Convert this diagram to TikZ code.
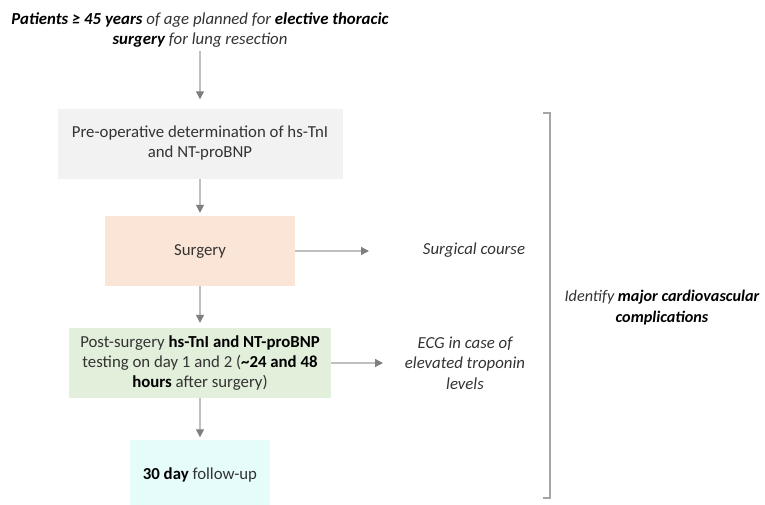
\documentclass[tikz,border=0pt]{standalone}
\usepackage{fontspec}
\setmainfont{Carlito}
\usetikzlibrary{arrows.meta,positioning}

\definecolor{txt}{HTML}{333333}
\definecolor{shaft}{HTML}{BFBFBF}
\definecolor{tip}{HTML}{7F7F7F}
\definecolor{brk}{HTML}{A6A6A6}
\definecolor{preopfill}{HTML}{F2F2F2}
\definecolor{surgfill}{HTML}{FBE5D6}
\definecolor{postfill}{HTML}{E2EFDA}
\definecolor{followfill}{HTML}{E6FCFB}

\newcommand{\bk}[1]{{\bfseries\color{black}#1}}

\tikzset{
  stagebox/.style={minimum height=70pt, inner sep=0pt, align=center, text=txt,
    font=\fontsize{16.8}{20}\selectfont},
  sidetext/.style={align=center, inner sep=0pt, text=txt,
    font=\fontsize{16.8}{20.5}\selectfont\itshape},
  flow/.style={draw=shaft, line width=1.3pt, shorten >=3pt,
    -{Triangle[length=8pt,width=8pt,color=tip]}},
}

\begin{document}
\begin{tikzpicture}[x=1pt,y=1pt,yscale=-1,xscale=1]
    \useasboundingbox (0,0) rectangle (765,504);
    % Text Node
    \node [sidetext] (title) at (200,30) {\bk{Patients ≥ 45 years} of age planned for \bk{elective thoracic}\\ \bk{surgery} for lung resection};
    % Stage boxes
    \node [stagebox, fill=preopfill, minimum width=285pt] (preop) at (200,143.5) {Pre-operative determination of hs-TnI\\ and NT-proBNP};
    \node [stagebox, fill=surgfill, minimum width=190pt] (surgery) at (200,251) {Surgery};
    \node [stagebox, fill=postfill, minimum width=262pt] (post) at (200,363) {Post-surgery \bk{hs-TnI and NT-proBNP}\\ testing on day 1 and 2 (\bk{\textasciitilde24 and 48}\\ \bk{hours} after surgery)};
    \node [stagebox, fill=followfill, minimum width=140pt] (follow) at (200,474.5) {\bk{30 day} follow-up};
    % Side texts
    \node [sidetext] (course) at (474,250) {Surgical course};
    \node [sidetext] (ecg) at (465,363) {ECG in case of\\ elevated troponin\\ levels};
    \node [sidetext, font=\fontsize{16.2}{20.5}\selectfont\itshape] (identify) at (662,307.5) {Identify \bk{major cardiovascular}\\ \bk{complications}};
    \coordinate (courseend) at (369,251);
    \coordinate (ecgend) at (383,363);
    % Arrows
    \draw [flow, shorten <=3pt, shorten >=9pt] (title) -- (preop);
    \draw [flow] (preop) -- (surgery);
    \draw [flow, shorten >=5pt] (surgery) -- (post);
    \draw [flow, shorten >=2pt] (post) -- (follow);
    \draw [flow, shorten >=0pt] (surgery.east) -- (courseend);
    \draw [flow, shorten >=0pt] (post.east) -- (ecgend);
    % Bracket
    \draw [brk, line width=1.2pt] (543,113) -- (550,113) -- (550,498) -- (543,498);
\end{tikzpicture}
\end{document}
